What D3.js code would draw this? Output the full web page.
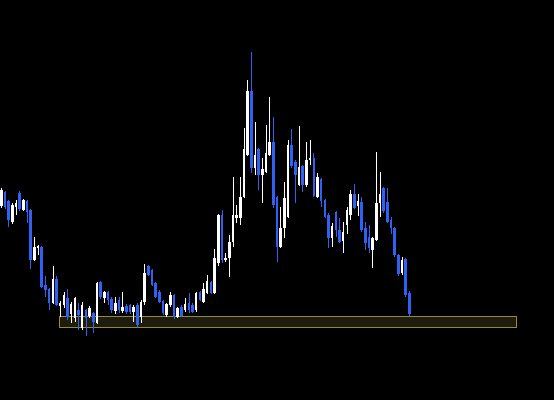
<!DOCTYPE html>
<html>
<head>
<meta charset="utf-8">
<script src="https://cdn.jsdelivr.net/npm/d3@7"></script>
<style>
  html, body { margin: 0; padding: 0; background: #000; }
  svg { display: block; }
</style>
</head>
<body>
<svg class="chart"></svg>
<script>
// set the dimensions of the graph
var width = 554,
    height = 400;

// candle data (oldest first)
var open  = [194,208,199,178,193,207,190,199,190,140,152,153,115,111,97,121,94,95,102,86,
             82,90,72,90,84,87,77,118,102,108,101,89,100,89,94,95,88,95,83,98,
             134,130,117,108,99,85,95,105,83,93,90,97,95,90,108,98,107,118,107,137,
             185,140,142,158,182,182,203,245,309,232,251,225,228,245,258,203,153,172,183,255,
             238,215,234,215,240,242,203,221,200,185,162,188,170,159,175,185,206,194,198,172,
             163,150,160,197,212,198,180,172,145,127,141,107];
var high  = [212,209,200,197,200,209,201,200,191,163,155,154,124,112,134,124,99,108,111,98,
             103,97,98,91,94,88,118,119,109,109,103,103,103,108,96,96,95,97,100,136,
             135,131,118,110,100,97,108,106,93,95,102,107,97,108,109,117,125,119,151,186,
             190,147,165,223,195,223,272,320,348,278,252,242,275,303,283,204,193,218,260,271,
             240,274,235,258,260,247,227,222,201,187,177,189,182,178,193,210,216,206,203,178,
             175,163,248,228,213,212,183,173,146,143,142,109];
var low   = [192,191,173,176,185,189,189,177,131,139,145,112,103,90,96,94,83,92,80,77,
             78,70,70,64,82,67,76,101,97,95,87,86,87,87,86,86,78,73,77,95,
             124,114,102,97,85,83,93,81,82,83,88,87,87,88,99,97,106,106,106,134,
             137,138,123,153,177,175,202,244,227,225,210,197,227,244,192,138,152,162,182,232,
             197,214,208,213,235,203,202,193,182,152,153,163,157,147,166,180,191,184,168,150,
             147,132,159,183,187,177,166,143,124,125,103,84];
var close = [210,193,180,195,197,191,200,188,140,153,154,113,110,97,121,95,97,105,83,96,
             102,85,95,82,92,78,117,103,108,100,90,97,90,93,88,88,93,75,98,127,
             125,115,103,98,87,96,105,83,92,84,96,90,88,107,100,111,119,107,142,185,
             140,142,158,185,185,203,251,309,232,245,225,231,247,258,195,153,172,202,255,234,
             225,233,215,240,242,204,223,199,183,162,174,170,158,168,190,206,192,199,170,157,
             152,162,197,206,189,178,172,145,126,140,105,86];

// highlighted zone (price band and candle range)
var zoneHigh = 84,
    zoneLow = 72,
    zoneFrom = 16,
    zoneTo = 140;

var slots = 150; // candles + empty space on the right

var candles = open.map(function(o, i) {
  return {i: i, open: o, high: high[i], low: low[i], close: close[i]};
});

var svg = d3.select("svg.chart")
  .attr("width", width)
  .attr("height", height);

svg.append("rect")
  .attr("width", width)
  .attr("height", height)
  .attr("fill", "#000");

// X scale: one band per candle
var x = d3.scaleBand()
  .domain(d3.range(slots))
  .range([-0.8, -0.8 + slots * 3.676])
  .paddingInner(0.3)
  .paddingOuter(0.15);

// Y scale for price
var y = d3.scaleLinear()
  .domain([0, 400])
  .range([height, 0]);

var bw = x.bandwidth();

// zone rectangle
var zx0 = Math.round(x(zoneFrom) + 0.5),
    zx1 = Math.round(x(zoneTo) + bw),
    zy0 = Math.round(y(zoneHigh)),
    zy1 = Math.round(y(zoneLow));
svg.append("rect")
  .attr("x", zx0 + 0.5)
  .attr("y", zy0 + 0.5)
  .attr("width", zx1 - zx0 - 1)
  .attr("height", zy1 - zy0 - 1)
  .attr("fill", "#1e1c0f")
  .attr("stroke", "#948839")
  .attr("stroke-width", 1);

function colour(d) { return d.close >= d.open ? "#ffffff" : "#2f62f2"; }

var g = svg.append("g")
  .attr("shape-rendering", "crispEdges");

// wicks
g.selectAll("line.wick")
  .data(candles)
  .enter().append("line")
    .attr("class", "wick")
    .attr("x1", function(d) { return Math.round(x(d.i) + bw / 2) + 0.5; })
    .attr("x2", function(d) { return Math.round(x(d.i) + bw / 2) + 0.5; })
    .attr("y1", function(d) { return y(d.high); })
    .attr("y2", function(d) { return y(d.low); })
    .attr("stroke", colour)
    .attr("stroke-width", 1);

// bodies
g.selectAll("rect.body")
  .data(candles)
  .enter().append("rect")
    .attr("class", "body")
    .attr("x", function(d) { return x(d.i) + 0.3; })
    .attr("y", function(d) { return y(Math.max(d.open, d.close)); })
    .attr("width", bw)
    .attr("height", function(d) { return Math.max(1, Math.abs(y(d.open) - y(d.close))); })
    .attr("fill", colour);
</script>
</body>
</html>
